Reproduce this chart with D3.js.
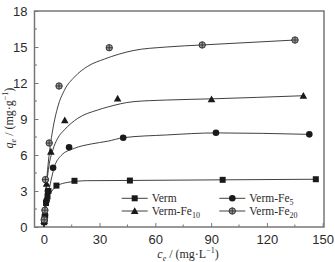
<!DOCTYPE html>
<html>
<head>
<meta charset="utf-8">
<script src="https://cdn.jsdelivr.net/npm/d3@7"></script>
<style>
  body { margin: 0; background: #fff; }
  svg { display: block; font-family: "Liberation Serif", "DejaVu Serif", serif; }
</style>
</head>
<body>
<svg id="chart"></svg>
<script>
// measured points [ce, qe]
const seriesNames = ['Verm', 'Verm-Fe5', 'Verm-Fe10', 'Verm-Fe20'];
const vermPts = [[0.2, 0.4], [0.5, 0.8], [1.2, 2.0], [2, 2.55], [2.5, 3.0], [6.8, 3.45], [16.5, 3.85], [46.3, 3.87], [96.2, 3.93], [146.3, 3.98]];
const fe5Pts = [[0.3, 0.5], [0.7, 1.0], [1.5, 2.2], [2.2, 3.0], [5.0, 4.94], [13.6, 6.64], [42.7, 7.44], [92.6, 7.86], [142.8, 7.72]];
const fe10Pts = [[0.2, 0.5], [0.5, 1.0], [1.5, 3.6], [3.8, 6.28], [11.3, 8.9], [39.7, 10.7], [90.2, 10.64], [139.6, 10.94]];
const fe20Pts = [[0.2, 0.6], [0.6, 1.4], [0.9, 3.95], [2.9, 7.0], [8.2, 11.75], [35.2, 14.94], [85.2, 15.17], [135.1, 15.58]];

// fitted curves
const vermFit = [[0, 0], [1, 1.6], [2, 2.3], [3.9, 2.9], [7.5, 3.45], [12.9, 3.72], [23.7, 3.86], [46.3, 3.88], [96.2, 3.93], [146.3, 3.98]];
const fe5Fit = [[0, 0], [1, 1.5], [2.2, 2.6], [3.9, 3.9], [5.7, 5.0], [9.3, 5.95], [16.5, 6.56], [25.5, 6.92], [34.4, 7.15], [42.7, 7.44], [66, 7.67], [92.6, 7.84], [142.8, 7.72]];
const fe10Fit = [[0, 0], [1, 2.6], [2, 4.2], [3, 5.3], [4.8, 6.4], [7.5, 7.4], [11.1, 8.1], [18.3, 9.06], [29, 9.75], [34.4, 10.0], [48, 10.44], [66, 10.58], [90.2, 10.68], [139.6, 10.94]];
const fe20Fit = [[0, 0], [1, 2.8], [2, 4.7], [3, 6.2], [4.8, 8.1], [7.5, 10.0], [11.1, 11.4], [16.5, 12.5], [23.7, 13.4], [32.7, 14.0], [48, 14.7], [66, 15.0], [85.2, 15.17], [135.1, 15.58]];

const xTicks = [0, 30, 60, 90, 120, 150];
const xMinor = [15, 45, 75, 105, 135];
const yTicks = [0, 3, 6, 9, 12, 15, 18];
const yMinor = [1.5, 4.5, 7.5, 10.5, 13.5, 16.5];

const width = 335, height = 262;
const ink = '#2a2a2a';

const svg = d3.select('#chart')
  .attr('width', width)
  .attr('height', height)
  .attr('viewBox', `0 0 ${width} ${height}`);

const x = d3.scaleLinear().domain([-5, 150.7]).range([34.5, 324]);
const y = d3.scaleLinear().domain([0, 18]).range([227, 11]);

// Frame
svg.append('rect')
  .attr('x', x.range()[0]).attr('y', y.range()[1])
  .attr('width', x.range()[1] - x.range()[0])
  .attr('height', y.range()[0] - y.range()[1])
  .attr('fill', 'none')
  .attr('stroke', '#777')
  .attr('stroke-width', 1.5);

// Axes (ticks inward)
const xAxis = svg.append('g')
  .attr('transform', `translate(0, ${y(0)})`)
  .call(d3.axisBottom(x).tickValues(xTicks).tickSizeInner(-4).tickSizeOuter(0).tickPadding(8));
xAxis.selectAll('text').attr('font-size', '13px').attr('fill', ink).attr('font-family', null);

xAxis.selectAll('.minor').data(xMinor).enter().append('line')
  .attr('x1', d => x(d)).attr('x2', d => x(d))
  .attr('y1', 0).attr('y2', -2.5)
  .attr('stroke', '#777');

const yAxis = svg.append('g')
  .attr('transform', `translate(${x.range()[0]}, 0)`)
  .call(d3.axisLeft(y).tickValues(yTicks).tickSizeInner(-4).tickSizeOuter(0).tickPadding(7));
yAxis.selectAll('text').attr('font-size', '13px').attr('fill', ink).attr('font-family', null);

yAxis.selectAll('.minor').data(yMinor).enter().append('line')
  .attr('x1', 0).attr('x2', 2.5)
  .attr('y1', d => y(d)).attr('y2', d => y(d))
  .attr('stroke', '#777');

svg.selectAll('.domain').remove();
svg.selectAll('.tick line').attr('stroke', '#777');

// Fitted curves
const line = d3.line()
  .x(d => x(d[0]))
  .y(d => y(d[1]))
  .curve(d3.curveMonotoneX);

const plot = svg.append('g');
[vermFit, fe5Fit, fe10Fit, fe20Fit].forEach(fit => {
  plot.append('path')
    .attr('d', line(fit))
    .attr('fill', 'none')
    .attr('stroke', ink)
    .attr('stroke-width', 0.9);
});

// Markers
function marker(g, kind, cx, cy) {
  if (kind === 0) {
    g.append('rect')
      .attr('x', cx - 3).attr('y', cy - 3)
      .attr('width', 6).attr('height', 6)
      .attr('fill', '#1a1a1a');
  } else if (kind === 1) {
    g.append('circle')
      .attr('cx', cx).attr('cy', cy).attr('r', 3.3)
      .attr('fill', '#1a1a1a');
  } else if (kind === 2) {
    g.append('path')
      .attr('d', `M${cx},${cy - 3.8}L${cx + 3.8},${cy + 3}L${cx - 3.8},${cy + 3}Z`)
      .attr('fill', '#1a1a1a');
  } else {
    g.append('circle')
      .attr('cx', cx).attr('cy', cy).attr('r', 3.2)
      .attr('fill', '#9a9a9a')
      .attr('stroke', '#2a2a2a')
      .attr('stroke-width', 0.9);
    g.append('path')
      .attr('d', `M${cx - 3.2},${cy}H${cx + 3.2}M${cx},${cy - 3.2}V${cy + 3.2}`)
      .attr('stroke', '#2a2a2a')
      .attr('stroke-width', 0.8);
  }
}

[vermPts, fe5Pts, fe10Pts, fe20Pts].forEach((pts, k) => {
  pts.forEach(d => marker(plot, k, x(d[0]), y(d[1])));
});

// Legend
const legendPos = [[121.7, 198.3], [219.3, 198.3], [121.7, 211], [219.3, 211]];
const legend = svg.append('g');
seriesNames.forEach((name, k) => {
  const [lx, ly] = legendPos[k];
  legend.append('line')
    .attr('x1', lx).attr('x2', lx + 26)
    .attr('y1', ly).attr('y2', ly)
    .attr('stroke', ink).attr('stroke-width', 0.9);
  marker(legend, k, lx + 13, ly);
  const t = legend.append('text')
    .attr('x', lx + 30).attr('y', ly + 4)
    .attr('font-size', '11.5px')
    .attr('fill', ink);
  const m = name.match(/^(.*?Fe)(\d+)$/);
  if (m) {
    t.append('tspan').text(m[1]);
    t.append('tspan').attr('font-size', '8px').attr('dy', 2.5).text(m[2]);
  } else {
    t.text(name);
  }
});

// Axis titles
const xt = svg.append('text')
  .attr('x', 188).attr('y', 258)
  .attr('text-anchor', 'middle')
  .attr('font-size', '12px')
  .attr('fill', ink);
xt.append('tspan').attr('font-style', 'italic').text('c');
xt.append('tspan').attr('font-style', 'italic').attr('font-size', '8px').attr('dy', 2.5).text('e');
xt.append('tspan').attr('dy', -2.5).text(' / (mg·L');
xt.append('tspan').attr('font-size', '8px').attr('dy', -5).text('−1');
xt.append('tspan').attr('dy', 5).text(')');

const yt = svg.append('text')
  .attr('transform', 'translate(13, 118) rotate(-90)')
  .attr('text-anchor', 'middle')
  .attr('font-size', '12px')
  .attr('fill', ink);
yt.append('tspan').attr('font-style', 'italic').text('q');
yt.append('tspan').attr('font-style', 'italic').attr('font-size', '8px').attr('dy', 2.5).text('e');
yt.append('tspan').attr('dy', -2.5).text(' / (mg·g');
yt.append('tspan').attr('font-size', '8px').attr('dy', -5).text('−1');
yt.append('tspan').attr('dy', 5).text(')');
</script>
</body>
</html>
